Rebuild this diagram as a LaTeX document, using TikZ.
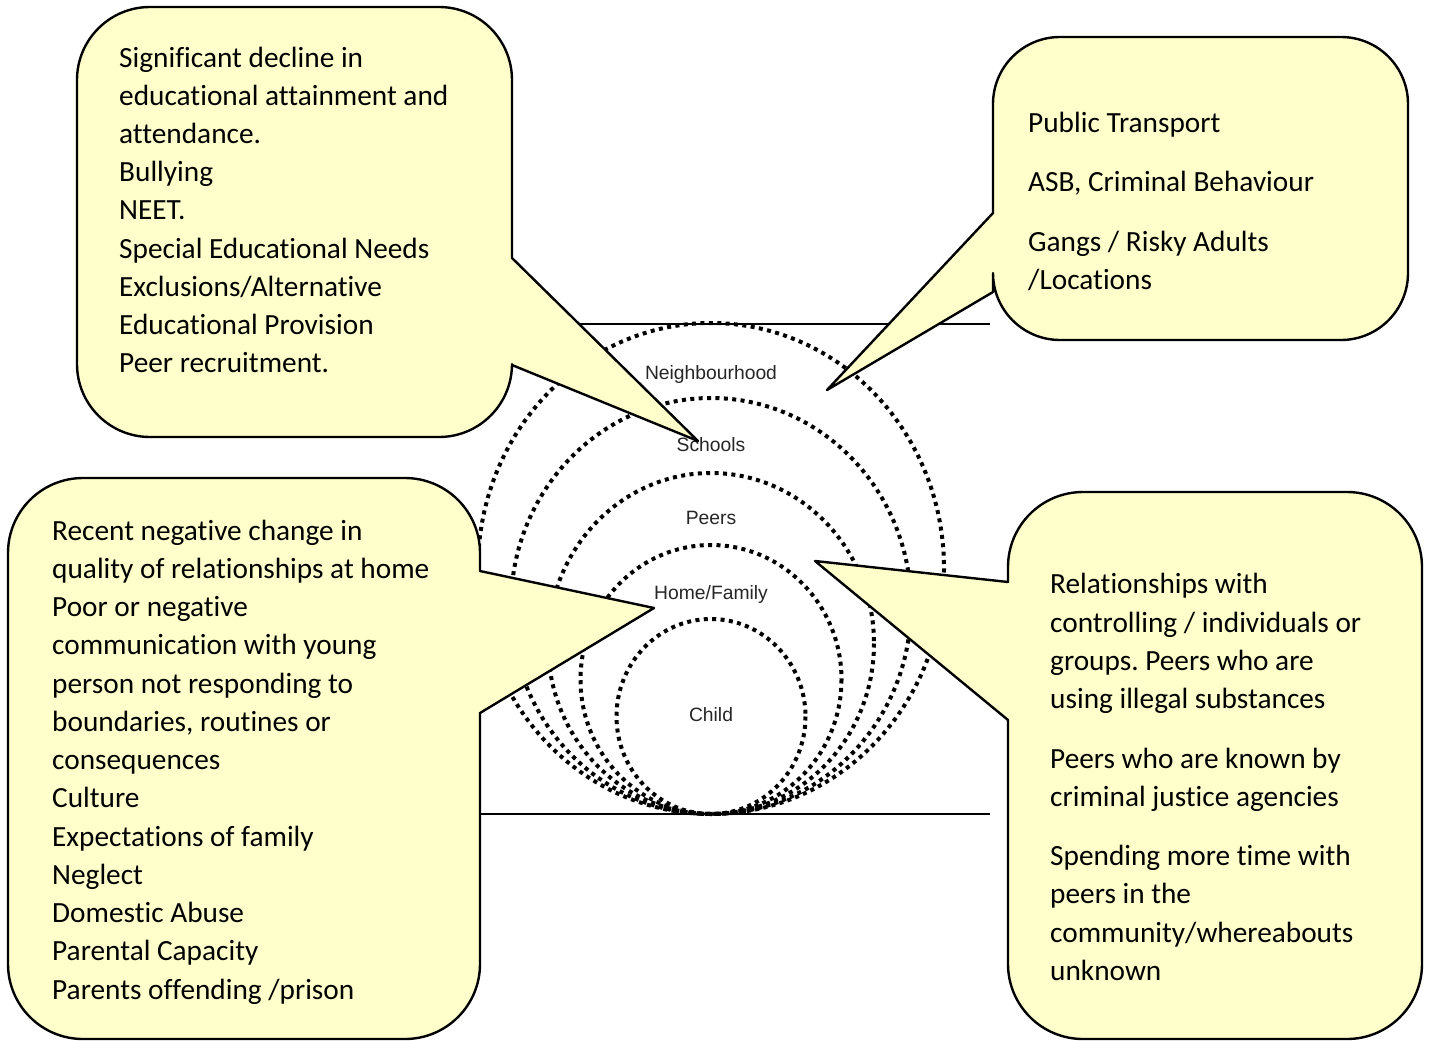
\documentclass[tikz,border=0pt]{standalone}
\usepackage{fontspec}
\setmainfont{Carlito}[Ligatures=NoCommon]
\newfontfamily\arialf{Liberation Sans}
\definecolor{callfill}{RGB}{255,255,204}
\frenchspacing
\def\kk{0.5523}
% callout with tail on the right side: x1 y1 x2 y2 r ya tx ty yb
\newcommand\calloutR[9]{%
 \draw[callout] ({#1+#5},#2) -- ({#3-#5},#2) .. controls ({#3-#5+\kk*#5},#2) and (#3,{#2+#5-\kk*#5}) .. (#3,{#2+#5})
  -- (#3,#6) -- (#7,#8) -- (#3,#9) -- (#3,{#4-#5})
  .. controls (#3,{#4-#5+\kk*#5}) and ({#3-#5+\kk*#5},#4) .. ({#3-#5},#4)
  -- ({#1+#5},#4) .. controls ({#1+#5-\kk*#5},#4) and (#1,{#4-#5+\kk*#5}) .. (#1,{#4-#5})
  -- (#1,{#2+#5}) .. controls (#1,{#2+#5-\kk*#5}) and ({#1+#5-\kk*#5},#2) .. ({#1+#5},#2) -- cycle;}
% callout with tail on the left side: x1 y1 x2 y2 r ya tx ty yb
\newcommand\calloutL[9]{%
 \draw[callout] ({#1+#5},#2) -- ({#3-#5},#2) .. controls ({#3-#5+\kk*#5},#2) and (#3,{#2+#5-\kk*#5}) .. (#3,{#2+#5})
  -- (#3,{#4-#5})
  .. controls (#3,{#4-#5+\kk*#5}) and ({#3-#5+\kk*#5},#4) .. ({#3-#5},#4)
  -- ({#1+#5},#4) .. controls ({#1+#5-\kk*#5},#4) and (#1,{#4-#5+\kk*#5}) .. (#1,{#4-#5})
  -- (#1,#9) -- (#7,#8) -- (#1,#6)
  -- (#1,{#2+#5}) .. controls (#1,{#2+#5-\kk*#5}) and ({#1+#5-\kk*#5},#2) .. ({#1+#5},#2) -- cycle;}
\begin{document}
\begin{tikzpicture}[x=1pt,y=-1pt,
  callout/.style={fill=callfill, draw=black, line width=2.4pt, line join=round},
  dotc/.style={draw=black, line width=4pt, dash pattern=on 4pt off 4.4pt},
  hline/.style={draw=black, line width=2.6pt},
  lab/.style={anchor=base, inner sep=0pt, text=black!85, font=\arialf\fontsize{19.3}{23}\selectfont},
  txt/.style={anchor=base west, inner sep=0pt, font=\fontsize{29.3}{38}\selectfont}]
\useasboundingbox (0,0) rectangle (1430,1041);
\fill[white] (0,0) rectangle (1430,1041);

% horizontal frame lines
\coordinate (topA) at (480,324);
\coordinate (topB) at (990,324);
\coordinate (botA) at (480,814);
\coordinate (botB) at (990,814);
\draw[hline] (topA) -- (topB);
\draw[hline] (botA) -- (botB);

% nested circles
\draw[dotc] (711,568.5) ellipse [x radius=233, y radius=245.5];
\draw[dotc] (711,606) ellipse [x radius=200, y radius=208];
\draw[dotc] (711,643.5) ellipse [x radius=163, y radius=170.5];
\draw[dotc] (711,679.5) ellipse [x radius=130.5, y radius=134.5];
\draw[dotc] (711,716.5) ellipse [x radius=94.5, y radius=97.5];

% circle labels
\node[lab] (nbh) at (711,379) {Neighbourhood};
\node[lab] (sch) at (711,451) {Schools};
\node[lab] (prs) at (711,524) {Peers};
\node[lab] (hom) at (711,599) {Home/Family};
\node[lab] (chd) at (711,721) {Child};

% callouts
\calloutR{77}{7}{512}{437}{73}{258}{698}{441}{365}
\calloutL{993}{37}{1408}{340}{67}{213}{827}{390}{292}
\calloutR{8}{478}{480}{1039}{75}{571}{654}{608}{713}
\calloutL{1008}{492}{1422}{1039}{75}{582}{815}{561}{720}

% texts
\foreach \t [count=\i] in {Significant decline in, educational attainment and, attendance., Bullying, NEET., Special Educational Needs, Exclusions/Alternative, Educational Provision, Peer recruitment.}
  {\node[txt] (tl\i) at (119,{67+38.2*(\i-1)}) {\t};}

\node[txt] (tr1) at (1028,132) {Public Transport};
\node[txt] (tr2) at (1028,191) {ASB, Criminal Behaviour};
\node[txt] (tr3) at (1028,251) {Gangs / Risky Adults};
\node[txt] (tr4) at (1028,289) {/Locations};

\foreach \t [count=\i] in {Recent negative change in, quality of relationships at home, Poor or negative, communication with young, person not responding to, {boundaries, routines or}, consequences, Culture, Expectations of family, Neglect, Domestic Abuse, Parental Capacity, Parents offending /prison}
  {\node[txt] (bl\i) at (52,{540+38.25*(\i-1)}) {\t};}

\node[txt] (br1) at (1050,593) {Relationships with};
\node[txt] (br2) at (1050,632) {controlling / individuals or};
\node[txt] (br3) at (1050,670) {groups. Peers who are};
\node[txt] (br4) at (1050,708) {using illegal substances};
\node[txt] (br5) at (1050,768) {Peers who are known by};
\node[txt] (br6) at (1050,806) {criminal justice agencies};
\node[txt] (br7) at (1050,865) {Spending more time with};
\node[txt] (br8) at (1050,903) {peers in the};
\node[txt] (br9) at (1050,942) {community/whereabouts};
\node[txt] (br10) at (1050,980) {unknown};
\end{tikzpicture}
\end{document}
